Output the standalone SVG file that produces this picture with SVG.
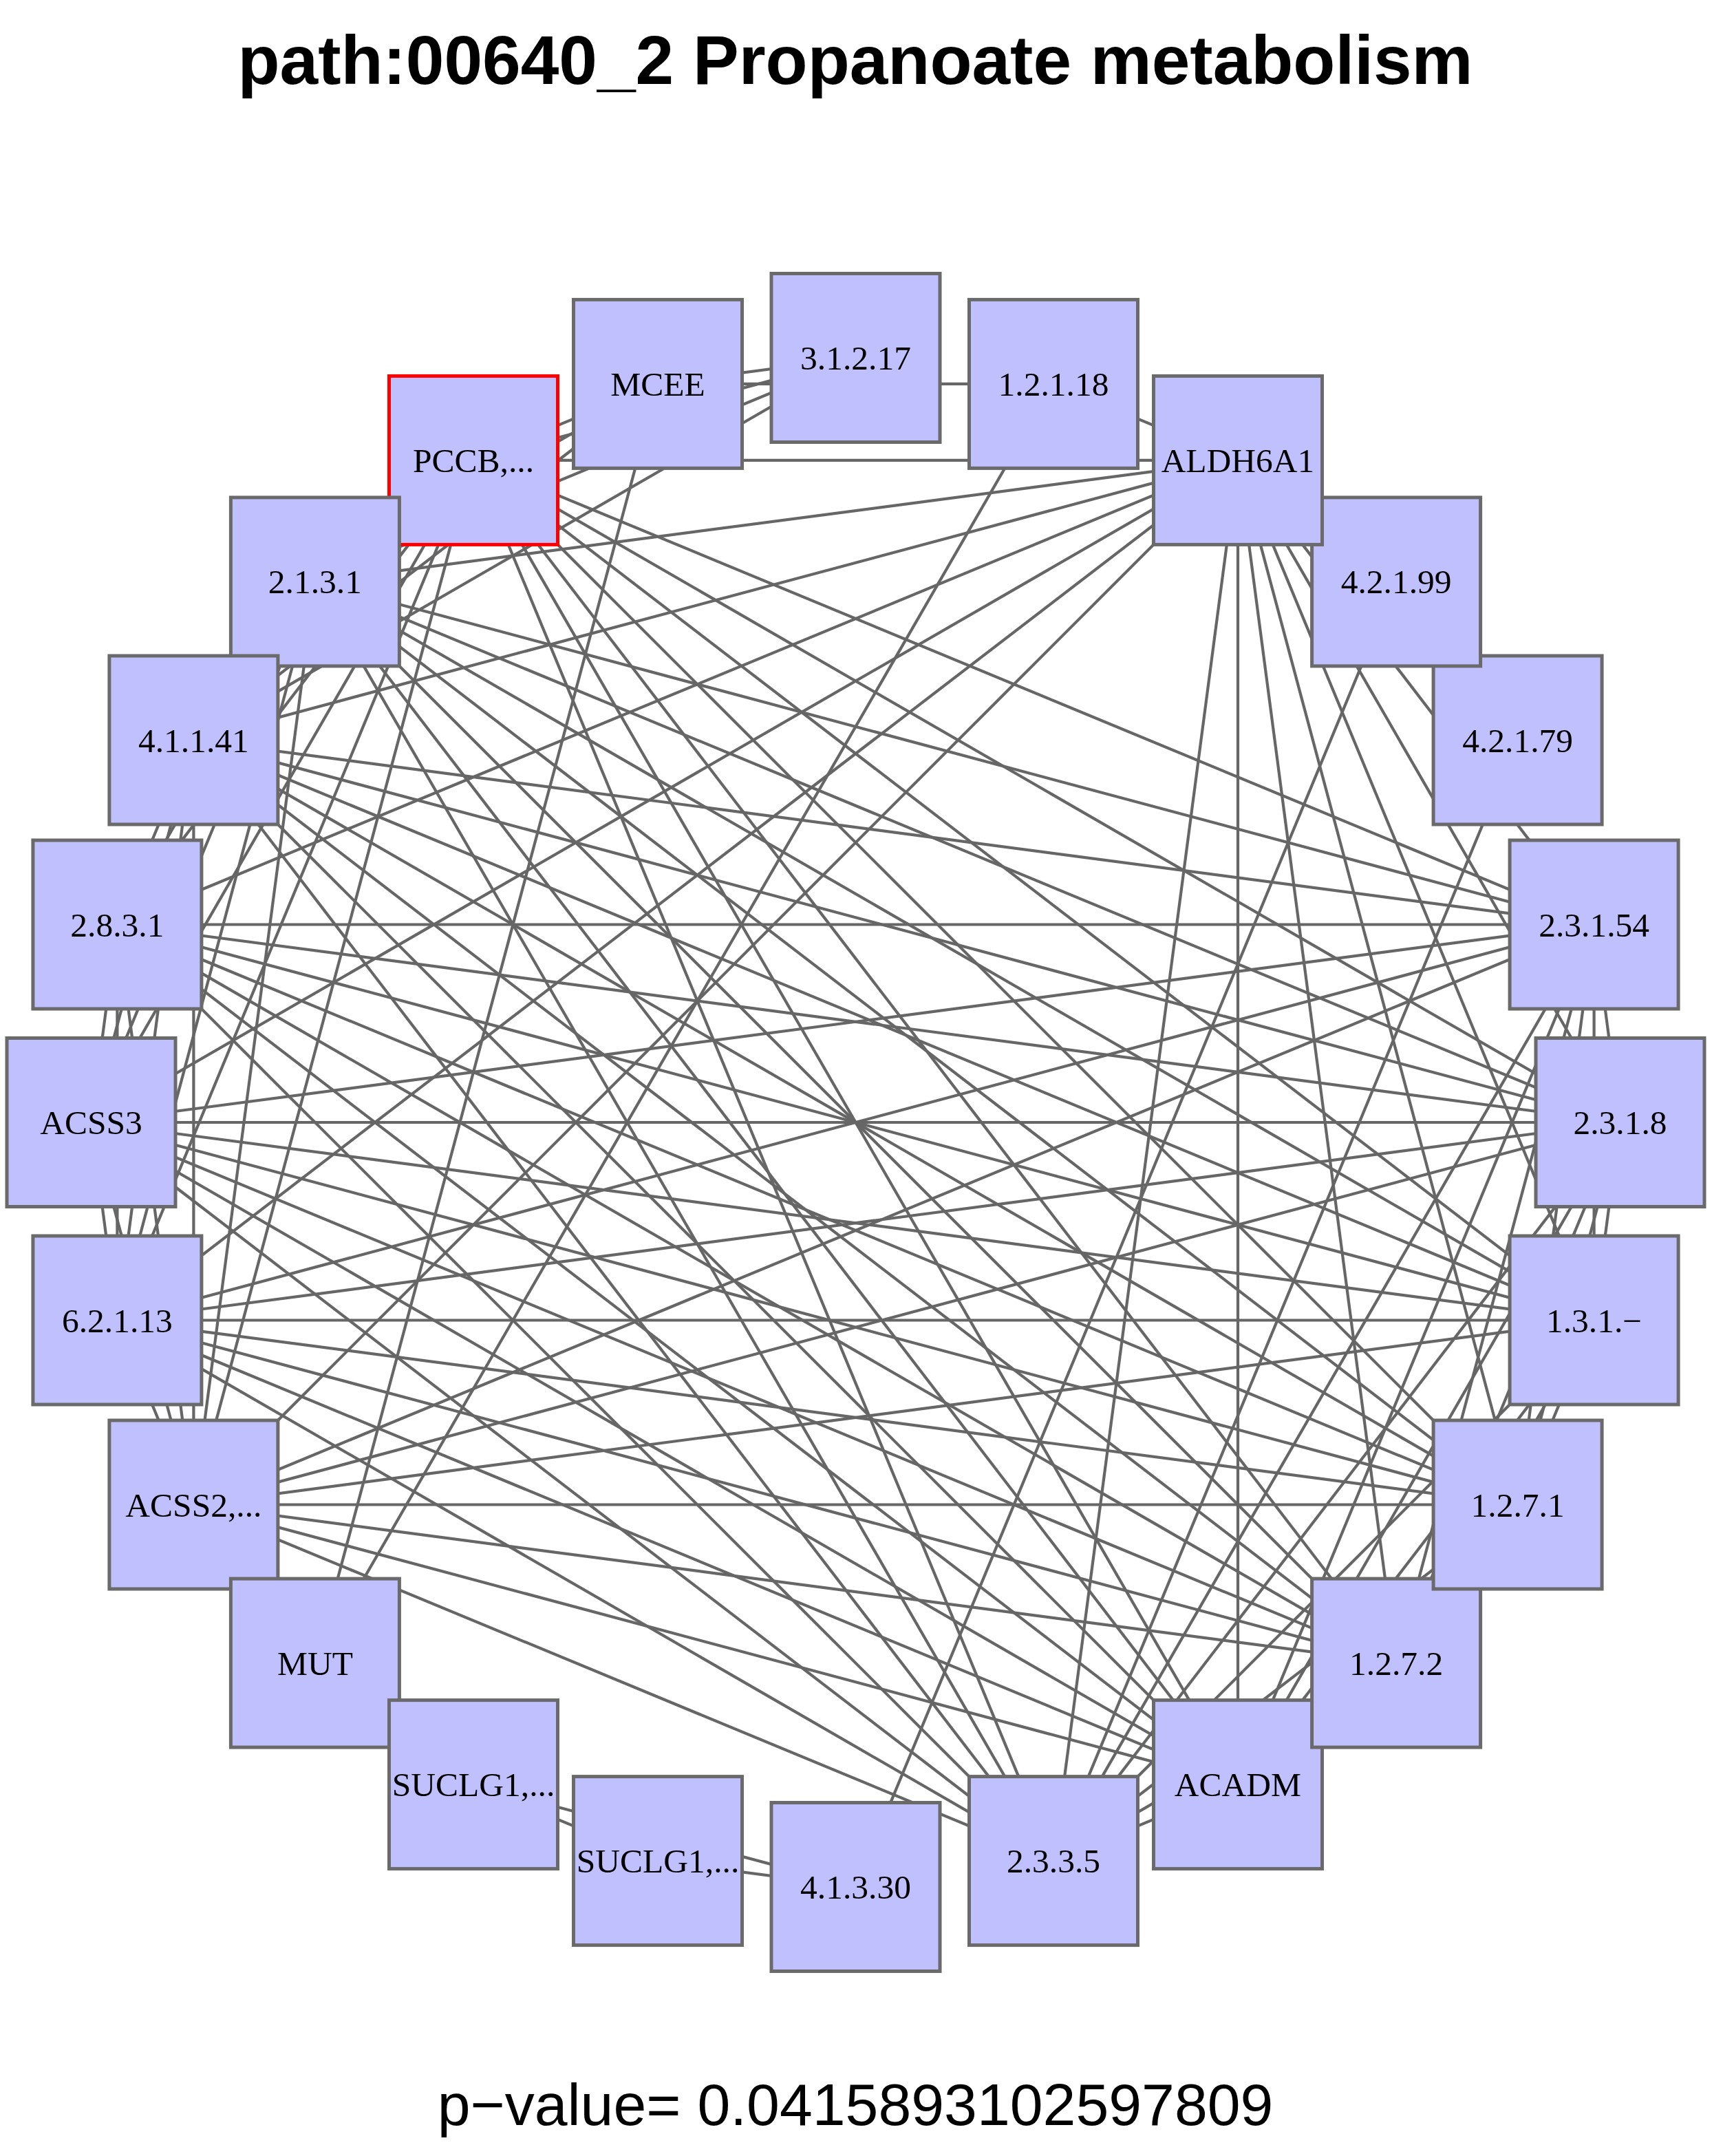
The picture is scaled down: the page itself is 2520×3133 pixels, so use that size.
<svg xmlns="http://www.w3.org/2000/svg" width="2520" height="3133" viewBox="0 0 2520 3133">
<style>
.e path{stroke:#666666;stroke-width:4.2;fill:none}
.n rect{fill:#c0c0ff;stroke:#6a6a6a;stroke-width:5}
.n text{font-family:"Liberation Serif","Times New Roman",serif;font-size:49.5px;fill:#000;text-anchor:middle}
.n.hit rect{stroke:#ff0000}
.title{font-family:"Liberation Sans",Arial,sans-serif;font-weight:bold;font-size:100px;text-anchor:middle;fill:#000}
.sub{font-family:"Liberation Sans",Arial,sans-serif;font-size:86px;text-anchor:middle;fill:#000}
</style>
<rect width="2520" height="3133" fill="#ffffff"/>
<text class="title" x="1243" y="122">path:00640_2 Propanoate metabolism</text>
<g id="edges" class="e">
<path d="M688 668.9L457.9 845.4"/><path d="M688 668.9L281.4 1075.5"/><path d="M688 668.9L170.4 1343.5"/><path d="M688 668.9L132.5 1631"/><path d="M688 668.9L170.4 1918.5"/><path d="M688 668.9L281.4 2186.5"/><path d="M688 668.9L1531 2704.1"/><path d="M688 668.9L1799 2593.1"/><path d="M688 668.9L2029.1 2416.6"/><path d="M688 668.9L2205.6 2186.5"/><path d="M688 668.9L2316.6 1918.5"/><path d="M688 668.9L2354.5 1631"/><path d="M688 668.9L2316.6 1343.5"/><path d="M688 668.9L1799 668.9"/>
<path d="M457.9 845.4L281.4 1075.5"/><path d="M457.9 845.4L170.4 1343.5"/><path d="M457.9 845.4L132.5 1631"/><path d="M457.9 845.4L170.4 1918.5"/><path d="M457.9 845.4L281.4 2186.5"/><path d="M457.9 845.4L1531 2704.1"/><path d="M457.9 845.4L1799 2593.1"/><path d="M457.9 845.4L2029.1 2416.6"/><path d="M457.9 845.4L2205.6 2186.5"/><path d="M457.9 845.4L2316.6 1918.5"/><path d="M457.9 845.4L2354.5 1631"/><path d="M457.9 845.4L2316.6 1343.5"/><path d="M457.9 845.4L1799 668.9"/>
<path d="M281.4 1075.5L170.4 1343.5"/><path d="M281.4 1075.5L132.5 1631"/><path d="M281.4 1075.5L170.4 1918.5"/><path d="M281.4 1075.5L281.4 2186.5"/><path d="M281.4 1075.5L1531 2704.1"/><path d="M281.4 1075.5L1799 2593.1"/><path d="M281.4 1075.5L2029.1 2416.6"/><path d="M281.4 1075.5L2205.6 2186.5"/><path d="M281.4 1075.5L2316.6 1918.5"/><path d="M281.4 1075.5L2354.5 1631"/><path d="M281.4 1075.5L2316.6 1343.5"/><path d="M281.4 1075.5L1799 668.9"/>
<path d="M170.4 1343.5L132.5 1631"/><path d="M170.4 1343.5L170.4 1918.5"/><path d="M170.4 1343.5L281.4 2186.5"/><path d="M170.4 1343.5L1531 2704.1"/><path d="M170.4 1343.5L1799 2593.1"/><path d="M170.4 1343.5L2029.1 2416.6"/><path d="M170.4 1343.5L2205.6 2186.5"/><path d="M170.4 1343.5L2316.6 1918.5"/><path d="M170.4 1343.5L2354.5 1631"/><path d="M170.4 1343.5L2316.6 1343.5"/><path d="M170.4 1343.5L1799 668.9"/>
<path d="M132.5 1631L170.4 1918.5"/><path d="M132.5 1631L281.4 2186.5"/><path d="M132.5 1631L1531 2704.1"/><path d="M132.5 1631L1799 2593.1"/><path d="M132.5 1631L2029.1 2416.6"/><path d="M132.5 1631L2205.6 2186.5"/><path d="M132.5 1631L2316.6 1918.5"/><path d="M132.5 1631L2354.5 1631"/><path d="M132.5 1631L2316.6 1343.5"/><path d="M132.5 1631L1799 668.9"/>
<path d="M170.4 1918.5L281.4 2186.5"/><path d="M170.4 1918.5L1531 2704.1"/><path d="M170.4 1918.5L1799 2593.1"/><path d="M170.4 1918.5L2029.1 2416.6"/><path d="M170.4 1918.5L2205.6 2186.5"/><path d="M170.4 1918.5L2316.6 1918.5"/><path d="M170.4 1918.5L2354.5 1631"/><path d="M170.4 1918.5L2316.6 1343.5"/><path d="M170.4 1918.5L1799 668.9"/>
<path d="M281.4 2186.5L1531 2704.1"/><path d="M281.4 2186.5L1799 2593.1"/><path d="M281.4 2186.5L2029.1 2416.6"/><path d="M281.4 2186.5L2205.6 2186.5"/><path d="M281.4 2186.5L2316.6 1918.5"/><path d="M281.4 2186.5L2354.5 1631"/><path d="M281.4 2186.5L2316.6 1343.5"/><path d="M281.4 2186.5L1799 668.9"/>
<path d="M1531 2704.1L1799 2593.1"/><path d="M1531 2704.1L2029.1 2416.6"/><path d="M1531 2704.1L2205.6 2186.5"/><path d="M1531 2704.1L2316.6 1918.5"/><path d="M1531 2704.1L2354.5 1631"/><path d="M1531 2704.1L2316.6 1343.5"/><path d="M1531 2704.1L1799 668.9"/>
<path d="M1799 2593.1L2029.1 2416.6"/><path d="M1799 2593.1L2205.6 2186.5"/><path d="M1799 2593.1L2316.6 1918.5"/><path d="M1799 2593.1L2354.5 1631"/><path d="M1799 2593.1L2316.6 1343.5"/><path d="M1799 2593.1L1799 668.9"/>
<path d="M2029.1 2416.6L2205.6 2186.5"/><path d="M2029.1 2416.6L2316.6 1918.5"/><path d="M2029.1 2416.6L2354.5 1631"/><path d="M2029.1 2416.6L2316.6 1343.5"/><path d="M2029.1 2416.6L1799 668.9"/>
<path d="M2205.6 2186.5L2316.6 1918.5"/><path d="M2205.6 2186.5L2354.5 1631"/><path d="M2205.6 2186.5L2316.6 1343.5"/><path d="M2205.6 2186.5L1799 668.9"/>
<path d="M2316.6 1918.5L2354.5 1631"/><path d="M2316.6 1918.5L2316.6 1343.5"/><path d="M2316.6 1918.5L1799 668.9"/>
<path d="M2354.5 1631L2316.6 1343.5"/><path d="M2354.5 1631L1799 668.9"/>
<path d="M2316.6 1343.5L1799 668.9"/>
<path d="M1243.5 520L956 557.9"/><path d="M1243.5 520L688 668.9"/><path d="M1243.5 520L457.9 845.4"/><path d="M1243.5 520L281.4 1075.5"/>
<path d="M956 557.9L688 668.9"/><path d="M956 557.9L457.9 845.4"/><path d="M956 557.9L281.4 1075.5"/>
<path d="M956 557.9L457.9 2416.6"/><path d="M956 557.9L1531 557.9"/><path d="M457.9 2416.6L1531 557.9"/><path d="M1799 668.9L1531 557.9"/>
<path d="M688 2593.1L956 2704.1"/><path d="M688 2593.1L1243.5 2742"/><path d="M956 2704.1L1243.5 2742"/>
<path d="M1243.5 2742L2029.1 845.4"/><path d="M1531 2704.1L2205.6 1075.5"/><path d="M2205.6 1075.5L2029.1 845.4"/>
</g>
<g id="n0" class="n"><rect x="1121" y="397.5" width="245" height="245"/><text x="1243.5" y="537">3.1.2.17</text></g>
<g id="n1" class="n"><rect x="833.5" y="435.4" width="245" height="245"/><text x="956" y="574.9">MCEE</text></g>
<g id="n2" class="n hit"><rect x="565.5" y="546.4" width="245" height="245"/><text x="688" y="685.9">PCCB,...</text></g>
<g id="n3" class="n"><rect x="335.4" y="722.9" width="245" height="245"/><text x="457.9" y="862.4">2.1.3.1</text></g>
<g id="n4" class="n"><rect x="158.9" y="953" width="245" height="245"/><text x="281.4" y="1092.5">4.1.1.41</text></g>
<g id="n5" class="n"><rect x="47.9" y="1221" width="245" height="245"/><text x="170.4" y="1360.5">2.8.3.1</text></g>
<g id="n6" class="n"><rect x="10" y="1508.5" width="245" height="245"/><text x="132.5" y="1648">ACSS3</text></g>
<g id="n7" class="n"><rect x="47.9" y="1796" width="245" height="245"/><text x="170.4" y="1935.5">6.2.1.13</text></g>
<g id="n8" class="n"><rect x="158.9" y="2064" width="245" height="245"/><text x="281.4" y="2203.5">ACSS2,...</text></g>
<g id="n9" class="n"><rect x="335.4" y="2294.1" width="245" height="245"/><text x="457.9" y="2433.6">MUT</text></g>
<g id="n10" class="n"><rect x="565.5" y="2470.6" width="245" height="245"/><text x="688" y="2610.1">SUCLG1,...</text></g>
<g id="n11" class="n"><rect x="833.5" y="2581.6" width="245" height="245"/><text x="956" y="2721.1">SUCLG1,...</text></g>
<g id="n12" class="n"><rect x="1121" y="2619.5" width="245" height="245"/><text x="1243.5" y="2759">4.1.3.30</text></g>
<g id="n13" class="n"><rect x="1408.5" y="2581.6" width="245" height="245"/><text x="1531" y="2721.1">2.3.3.5</text></g>
<g id="n14" class="n"><rect x="1676.5" y="2470.6" width="245" height="245"/><text x="1799" y="2610.1">ACADM</text></g>
<g id="n15" class="n"><rect x="1906.6" y="2294.1" width="245" height="245"/><text x="2029.1" y="2433.6">1.2.7.2</text></g>
<g id="n16" class="n"><rect x="2083.1" y="2064" width="245" height="245"/><text x="2205.6" y="2203.5">1.2.7.1</text></g>
<g id="n17" class="n"><rect x="2194.1" y="1796" width="245" height="245"/><text x="2316.6" y="1935.5">1.3.1.−</text></g>
<g id="n18" class="n"><rect x="2232" y="1508.5" width="245" height="245"/><text x="2354.5" y="1648">2.3.1.8</text></g>
<g id="n19" class="n"><rect x="2194.1" y="1221" width="245" height="245"/><text x="2316.6" y="1360.5">2.3.1.54</text></g>
<g id="n20" class="n"><rect x="2083.1" y="953" width="245" height="245"/><text x="2205.6" y="1092.5">4.2.1.79</text></g>
<g id="n21" class="n"><rect x="1906.6" y="722.9" width="245" height="245"/><text x="2029.1" y="862.4">4.2.1.99</text></g>
<g id="n22" class="n"><rect x="1676.5" y="546.4" width="245" height="245"/><text x="1799" y="685.9">ALDH6A1</text></g>
<g id="n23" class="n"><rect x="1408.5" y="435.4" width="245" height="245"/><text x="1531" y="574.9">1.2.1.18</text></g>
<text class="sub" x="1243" y="3088">p−value= 0.0415893102597809</text>
</svg>
